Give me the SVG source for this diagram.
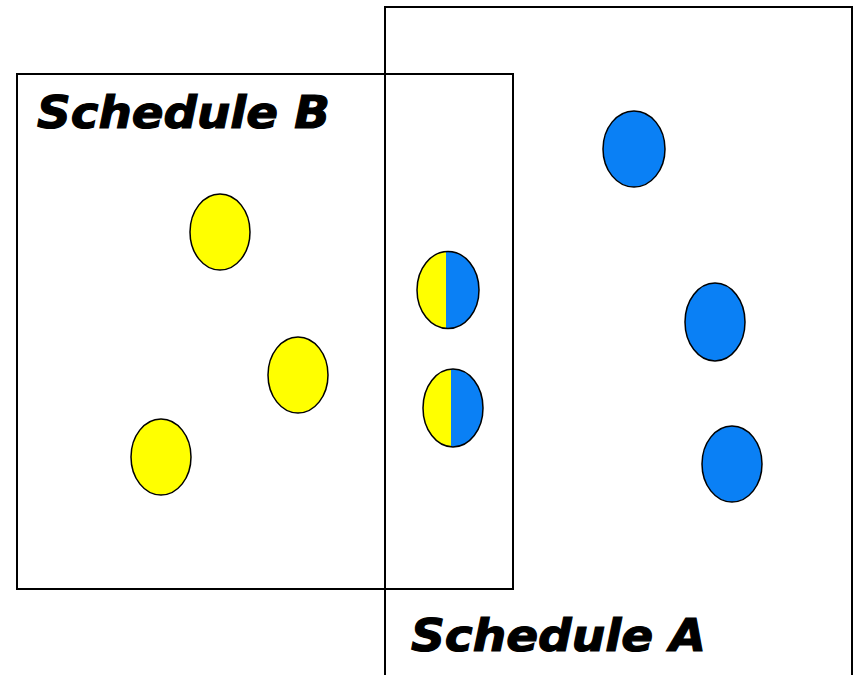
<svg xmlns="http://www.w3.org/2000/svg" width="855" height="675" viewBox="0 0 855 675">
<style>
.box{fill:none;stroke:#000;stroke-width:2}
.y{fill:#FFFF00;stroke:#000;stroke-width:1.5}
.b{fill:#0A80F5;stroke:#000;stroke-width:1.5}
.o{fill:none;stroke:#000;stroke-width:1.5}
.lbl{font-family:"DejaVu Sans",Verdana,sans-serif;font-weight:bold;font-style:italic;font-size:45px;fill:#000;stroke:#000;stroke-width:1.2}
</style>
<defs>
<clipPath id="r1"><rect x="446" y="240" width="50" height="100"/></clipPath>
<clipPath id="r2"><rect x="451" y="360" width="50" height="100"/></clipPath>
</defs>
<rect width="855" height="675" fill="#fff"/>
<g id="scheduleA">
<rect class="box" x="385" y="7" width="467" height="680"/>
<text class="lbl" x="411" y="651" textLength="295" lengthAdjust="spacingAndGlyphs">Schedule A</text>
</g>
<g id="scheduleB">
<rect class="box" x="17" y="74" width="496" height="515"/>
<text class="lbl" x="37" y="128" textLength="293" lengthAdjust="spacingAndGlyphs">Schedule B</text>
</g>
<g id="y1"><ellipse class="y" cx="220" cy="232" rx="30" ry="38"/></g>
<g id="y2"><ellipse class="y" cx="298" cy="375" rx="30" ry="38"/></g>
<g id="y3"><ellipse class="y" cx="161" cy="457" rx="30" ry="38"/></g>
<g id="b1"><ellipse class="b" cx="634" cy="149" rx="31" ry="38"/></g>
<g id="b2"><ellipse class="b" cx="715" cy="322" rx="30" ry="39"/></g>
<g id="b3"><ellipse class="b" cx="732" cy="464" rx="30" ry="38"/></g>
<g id="both1">
<ellipse cx="448" cy="290" rx="31" ry="38.5" fill="#FFFF00"/>
<ellipse cx="448" cy="290" rx="31" ry="38.5" fill="#0A80F5" clip-path="url(#r1)"/>
<ellipse class="o" cx="448" cy="290" rx="31" ry="38.5"/>
</g>
<g id="both2">
<ellipse cx="453" cy="408" rx="30" ry="39" fill="#FFFF00"/>
<ellipse cx="453" cy="408" rx="30" ry="39" fill="#0A80F5" clip-path="url(#r2)"/>
<ellipse class="o" cx="453" cy="408" rx="30" ry="39"/>
</g>
<g id="connectors"/>
</svg>
